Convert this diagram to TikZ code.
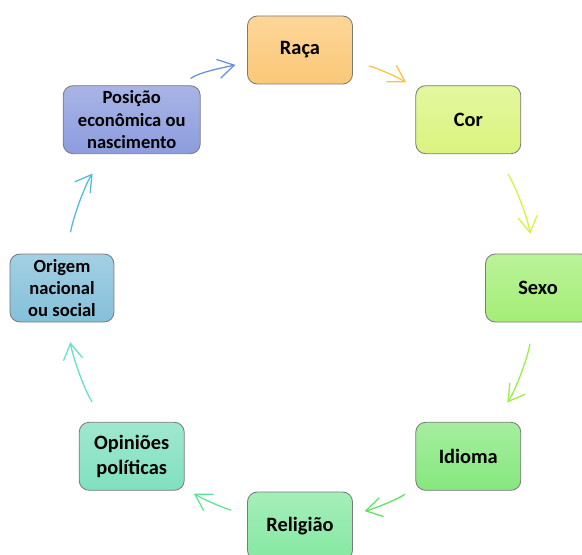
\documentclass[tikz,border=0pt]{standalone}
\usepackage{fontspec}
\setmainfont{Carlito}
\usepackage{tikz}
\usetikzlibrary{arrows.meta}
\definecolor{boxline}{HTML}{7A7A7A}
\definecolor{raca}{HTML}{FBC877}
\definecolor{cor}{HTML}{DAF47E}
\definecolor{sexo}{HTML}{A4EE77}
\definecolor{idioma}{HTML}{86E87E}
\definecolor{religiao}{HTML}{86E8A2}
\definecolor{opinioes}{HTML}{80E0C0}
\definecolor{origem}{HTML}{84C0DA}
\definecolor{posicao}{HTML}{8C9CDE}
\definecolor{aone}{HTML}{FCC43E}
\definecolor{atwo}{HTML}{D8F23E}
\definecolor{athree}{HTML}{9AEC4A}
\definecolor{afour}{HTML}{5FE25F}
\definecolor{afive}{HTML}{5EE296}
\definecolor{asix}{HTML}{5EE2C8}
\definecolor{aseven}{HTML}{52B8DE}
\definecolor{aeight}{HTML}{6A8EDC}

\begin{document}
\begin{tikzpicture}[font=\bfseries\fontsize{14.5}{17.5}\selectfont,
  bx/.style={draw=boxline,line width=0.6pt,rounded corners=7pt,align=center,minimum width=2.625cm,minimum height=1.7cm,inner sep=2pt,top color=#1!75!white,bottom color=#1},
  sm/.style={font=\bfseries\fontsize{13.2}{15.8}\selectfont},
  arr/.style={-{Straight Barb[length=4mm,width=4.8mm]},line width=0.9pt,looseness=0.86}]
\clip (-7.5,-6.65) rectangle (7.05,7.2);
\node[bx=raca] (raca) at (90:5.95) {Raça};
\node[bx=cor] (cor) at (45:5.95) {Cor};
\node[bx=sexo] (sexo) at (0:5.95) {Sexo};
\node[bx=idioma] (idioma) at (-45:5.95) {Idioma};
\node[bx=religiao] (religiao) at (-90:5.95) {Religião};
\node[bx=opinioes] (opinioes) at (-135:5.95) {Opiniões\\políticas};
\node[bx=origem,sm,minimum width=2.6cm] (origem) at (180:5.95) {Origem\\nacional\\ou social};
\node[bx=posicao,sm,minimum width=3.425cm] (posicao) at (135:5.95) {Posição\\econômica ou\\nascimento};
% arcs round the cycle
\draw[arr,aone,shorten <=0.41cm,shorten >=0.27cm](raca) to[out=-13,in=149] (cor);
\draw[arr,atwo,shorten <=0.62cm,shorten >=0.5cm](cor) to[out=-54,in=98.5] (sexo);
\draw[arr,athree,shorten <=0.54cm,shorten >=0.6cm](sexo) to[out=-98.5,in=54] (idioma);
\draw[arr,afour,shorten <=0.3cm,shorten >=0.3cm](idioma) to[out=-149,in=13] (religiao);
\draw[arr,afive,shorten <=0.41cm,shorten >=0.27cm](religiao) to[out=167,in=-31] (opinioes);
\draw[arr,asix,shorten <=0.62cm,shorten >=0.5cm](opinioes) to[out=126,in=-81.5] (origem);
\draw[arr,aseven,shorten <=0.54cm,shorten >=0.6cm](origem) to[out=81.5,in=-126] (posicao);
\draw[arr,aeight,shorten <=0.3cm,shorten >=0.3cm](posicao) to[out=35,in=-167] (raca);
\end{tikzpicture}
\end{document}
